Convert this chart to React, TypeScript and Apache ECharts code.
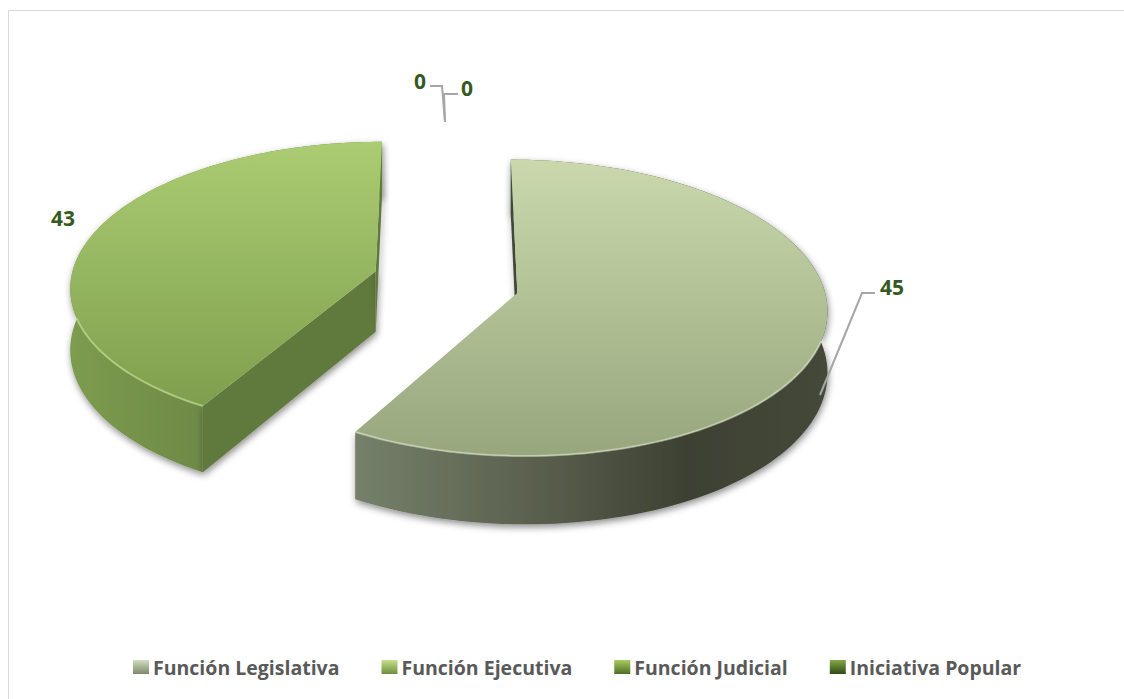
import React, { useEffect, useRef } from "react";
import * as echarts from "echarts";

const categories = ["Función Legislativa", "Función Ejecutiva", "Función Judicial", "Iniciativa Popular"];
const values = [45, 43, 0, 0];
const total = values.reduce((a, b) => a + b, 0);

const grad = (x2: number, y2: number, stops: [number, string][]) =>
  new echarts.graphic.LinearGradient(0, 0, x2, y2, stops.map(([offset, color]) => ({ offset, color })));

const FONT = "'Open Sans', Lato, sans-serif";
const CX = 446, CY = 282, RX = 305.5, RY = 144.5, K = 0.1, EXPLODE = 0.24, EXPLODE_V = 1.2, WARP = 26, DEPTH = 61;

const warp = (deg: number) => deg + WARP * Math.sin((deg * Math.PI) / 360);
const project = (u: number, v: number, lift = 0): number[] => {
  const w = 1 - K * v;
  return [CX + (RX * u) / w, CY + (RY * v) / w + lift];
};
const dropOf = (v: number) => DEPTH / (1 - K * v);

const looks = [
  {
    top: [[0, "#cad8ac"], [1, "#98a67e"]],
    side: [[0, "#75806a"], [0.35, "#5c6350"], [0.7, "#3d4132"], [1, "#44483a"]],
    cut: "#41463a",
    rim: "rgba(226,235,205,0.55)",
    icon: [[0, "#d3dcc0"], [1, "#7d8a6a"]],
  },
  {
    top: [[0, "#abcc72"], [1, "#7f9f4e"]],
    side: [[0, "#7d9c4e"], [0.5, "#6b8644"], [1, "#637d3e"]],
    cut: "#617a3d",
    rim: "rgba(200,225,150,0.6)",
    icon: [[0, "#c6e08e"], [1, "#6f8f3e"]],
  },
  { top: [], side: [], cut: "", rim: "", icon: [[0, "#a9cc5e"], [1, "#4e6e22"]] },
  { top: [], side: [], cut: "", rim: "", icon: [[0, "#86a848"], [1, "#2f4a14"]] },
];

const callouts: Record<number, { lx: number; ly: number; leader: number[][] }> = {
  0: { lx: 892, ly: 287, leader: [[820, 395], [862, 293], [875, 293]] },
  1: { lx: 63, ly: 218, leader: [] },
  2: { lx: 420, ly: 81, leader: [[445, 122], [442, 86], [430, 86]] },
  3: { lx: 467, ly: 88, leader: [[445, 122], [444, 94], [458, 94]] },
};

const cross = (a: number[], b: number[], p: number[]) =>
  (b[0] - a[0]) * (p[1] - a[1]) - (b[1] - a[1]) * (p[0] - a[0]);

function renderSlice(index: number) {
  return (_params: any, api: any) => {
    const value = api.value(0) as number;
    const before = values.slice(0, index).reduce((a, b) => a + b, 0);
    const startDeg = (before / total) * 360;
    const endDeg = ((before + value) / total) * 360;
    const children: any[] = [];
    const c = callouts[index];

    if (value > 0) {
      const a0 = warp(startDeg);
      const a1 = warp(endDeg);
      const mid = (((a0 + a1) / 2) * Math.PI) / 180;
      const ex = EXPLODE * Math.sin(mid);
      const ev = -EXPLODE * EXPLODE_V * Math.cos(mid);
      const look = looks[index];
      const arc: { u: number; v: number }[] = [];
      const steps = 120;
      for (let i = 0; i <= steps; i++) {
        const t = ((a0 + ((a1 - a0) * i) / steps) * Math.PI) / 180;
        arc.push({ u: Math.sin(t) + ex, v: -Math.cos(t) + ev });
      }
      const topPts = arc.map((p) => project(p.u, p.v));
      const botPts = arc.map((p) => project(p.u, p.v, dropOf(p.v)));
      const apexTop = project(ex, ev);
      const apexBot = project(ex, ev, dropOf(ev));
      const inner = topPts[steps >> 1];
      const shadow = { shadowBlur: 7, shadowColor: "rgba(0,0,0,0.45)", shadowOffsetX: 1, shadowOffsetY: 3 };
      const wallVisible = (edge: number[]) => {
        const below = [apexTop[0], apexTop[1] + 1];
        return cross(apexTop, edge, inner) * cross(apexTop, edge, below) < 0;
      };

      children.push({
        type: "polygon",
        shape: { points: [...topPts, ...botPts.slice().reverse()] },
        style: { fill: grad(1, 0, look.side as any), ...shadow },
      });
      [0, steps].forEach((i) => {
        if (wallVisible(topPts[i])) {
          children.push({
            type: "polygon",
            shape: { points: [topPts[i], apexTop, apexBot, botPts[i]] },
            style: { fill: look.cut, ...shadow },
          });
        }
      });
      children.push({
        type: "polygon",
        shape: { points: [apexTop, ...topPts] },
        style: { fill: grad(0, 1, look.top as any) },
      });
      children.push({
        type: "polyline",
        shape: { points: topPts.filter((_, i) => arc[i].v > ev + 0.3) },
        style: { stroke: look.rim, lineWidth: 2, fill: "none" },
      });
    }

    if (c.leader.length) {
      children.push({
        type: "polyline",
        shape: { points: c.leader },
        style: { stroke: "#a6a6a6", lineWidth: 2, fill: "none" },
      });
    }
    children.push({
      type: "text",
      style: {
        text: String(value),
        x: c.lx,
        y: c.ly,
        align: "center",
        verticalAlign: "middle",
        fill: "#35591f",
        font: `bold 21px ${FONT}`,
      },
    });
    return { type: "group", children };
  };
}

export default function App() {
  const ref = useRef<HTMLDivElement>(null);
  useEffect(() => {
    document.body.style.margin = "0";
    const chart = echarts.init(ref.current!, undefined, { renderer: "svg" });
    chart.setOption({
      animation: false,
      backgroundColor: "#ffffff",
      graphic: [
        {
          type: "rect",
          silent: true,
          z: -1,
          shape: { x: 8.5, y: 10.5, width: 1130, height: 700 },
          style: { fill: "#fff", stroke: "#d9d9d9", lineWidth: 1 },
        },
      ],
      legend: {
        left: 128,
        top: 652,
        icon: "rect",
        itemWidth: 16,
        itemHeight: 14,
        itemGap: 42,
        data: categories.map((name, i) => ({
          name,
          itemStyle: { color: grad(0, 1, looks[i].icon as any) },
        })),
        textStyle: { color: "#595959", fontWeight: "bold", fontSize: 19.5, fontFamily: FONT, padding: [0, 0, 0, -1] },
      },
      series: categories.map((name, i) => ({
        type: "custom",
        name,
        coordinateSystem: "none",
        renderItem: renderSlice(i),
        data: [[values[i]]],
        itemStyle: { color: "#8aa85a" },
        z: i === 0 ? 3 : 2,
      })),
    });
    return () => chart.dispose();
  }, []);
  return <div ref={ref} style={{ width: 1124, height: 699 }} />;
}
